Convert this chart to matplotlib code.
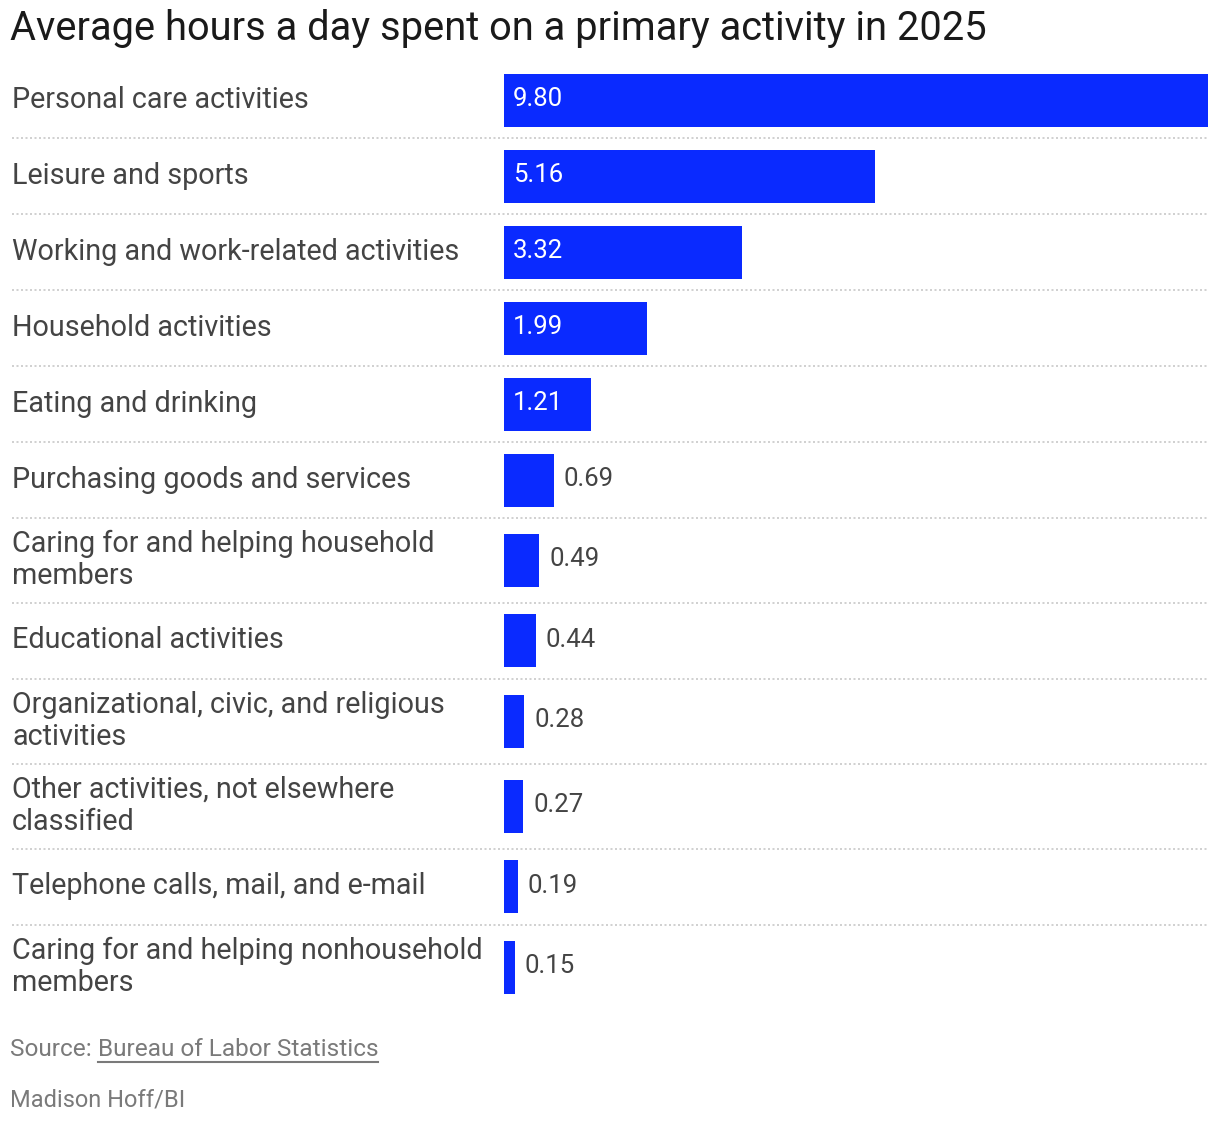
import matplotlib
matplotlib.use("Agg")
import matplotlib.pyplot as plt
import matplotlib.transforms as mtransforms

categories = [
    "Personal care activities",
    "Leisure and sports",
    "Working and work-related activities",
    "Household activities",
    "Eating and drinking",
    "Purchasing goods and services",
    "Caring for and helping household\nmembers",
    "Educational activities",
    "Organizational, civic, and religious\nactivities",
    "Other activities, not elsewhere\nclassified",
    "Telephone calls, mail, and e-mail",
    "Caring for and helping nonhousehold\nmembers",
]
values = [9.80, 5.16, 3.32, 1.99, 1.21, 0.69, 0.49, 0.44, 0.28, 0.27, 0.19, 0.15]
value_labels = ["9.80", "5.16", "3.32", "1.99", "1.21", "0.69", "0.49", "0.44",
                "0.28", "0.27", "0.19", "0.15"]
title = "Average hours a day spent on a primary activity in 2025"
source_prefix = "Source: "
source_link = "Bureau of Labor Statistics"
credit = "Madison Hoff/BI"

W, H = 1220, 1124
DPI = 100
FONT = ["Roboto", "DejaVu Sans"]
BLUE = "#0a2aff"
TXT = "#444444"
GRAY = "#7a7a7a"

plt.rcParams["font.family"] = FONT

fig = plt.figure(figsize=(W / DPI, H / DPI), dpi=DPI)

# row layout in pixel units (top-down)
TOP = 62
single_h, double_h, bar_h = 76, 85, 53
heights = [double_h if "\n" in c else single_h for c in categories]
tops = []
y = TOP
for h in heights:
    tops.append(y)
    y += h
BOTTOM = y
centers = [t + h / 2 for t, h in zip(tops, heights)]

x0, x1 = 504, 1208
ax = fig.add_axes([x0 / W, 1 - BOTTOM / H, (x1 - x0) / W, (BOTTOM - TOP) / H])
ax.set_xlim(0, max(values))
ax.set_ylim(BOTTOM, TOP)
ax.axis("off")

ax.barh(centers, values, height=bar_h, color=BLUE, linewidth=0)

label_tr = mtransforms.blended_transform_factory(fig.transFigure, ax.transData)
for c, cy in zip(categories, centers):
    ax.text(12 / W, cy - 0.5, c, transform=label_tr, ha="left", va="center",
            fontsize=20.7, color=TXT, linespacing=1.19, clip_on=False)

for v, lab, cy in zip(values, value_labels, centers):
    if v >= 1.0:
        ax.text(0, cy - 1, lab,
                transform=mtransforms.offset_copy(ax.transData, fig=fig, x=9, y=0, units="dots"),
                ha="left", va="center", fontsize=18.5, color="white")
    else:
        ax.text(v, cy - 1, lab,
                transform=mtransforms.offset_copy(ax.transData, fig=fig, x=10, y=0, units="dots"),
                ha="left", va="center", fontsize=18.5, color=TXT)

# dotted separators
for t in tops[1:]:
    ax.plot([12 / W, x1 / W], [t, t], transform=label_tr, color="#c8c8c8",
            linestyle=(0, (1.2, 1.5)), linewidth=1.2, clip_on=False)

fig.text(10 / W, 1 - 29 / H, title, ha="left", va="center", fontsize=28.7,
         color="#1a1a1a")

t1 = fig.text(10 / W, 1 - 1050 / H, source_prefix, ha="left", va="center",
              fontsize=17.6, color=GRAY)
fig.canvas.draw()
bb = t1.get_window_extent()
t2 = fig.text(bb.x1 / W, 1 - 1050 / H, source_link, ha="left", va="center",
              fontsize=17.6, color=GRAY)
fig.canvas.draw()
bb2 = t2.get_window_extent()
fig.add_artist(plt.Line2D([bb2.x0 / W, bb2.x1 / W], [1 - 1062 / H, 1 - 1062 / H],
                          transform=fig.transFigure, color=GRAY, linewidth=1.5))
fig.text(10 / W, 1 - 1100 / H, credit, ha="left", va="center", fontsize=17,
         color=GRAY)

fig.savefig("out.png", dpi=DPI)
